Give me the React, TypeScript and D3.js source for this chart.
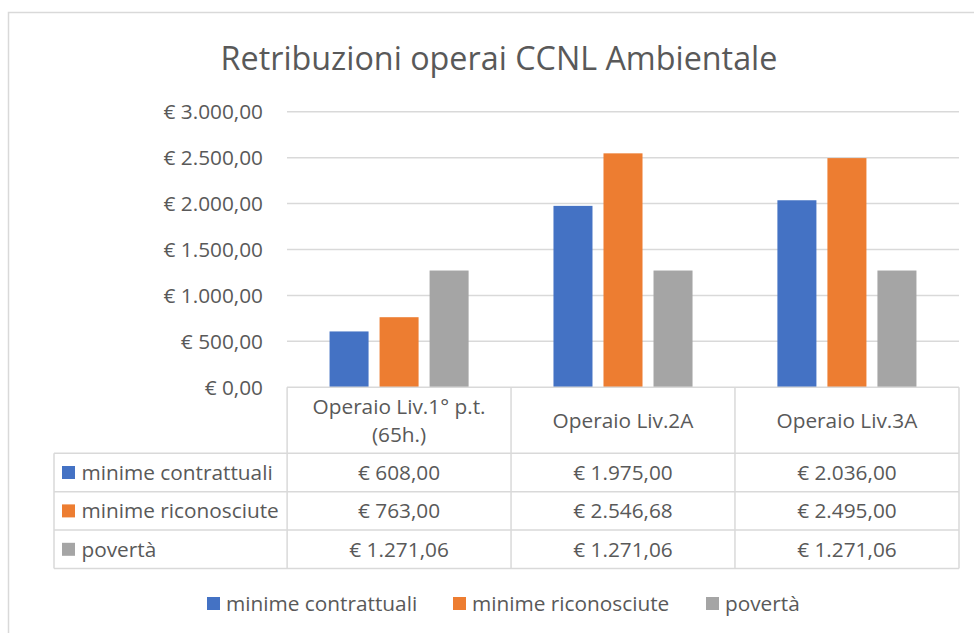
import * as d3 from "d3";
import { useEffect, useRef } from "react";

const categories = ["Operaio Liv.1° p.t. (65h.)", "Operaio Liv.2A", "Operaio Liv.3A"];
const categoryLines = [["Operaio Liv.1° p.t.", "(65h.)"], ["Operaio Liv.2A"], ["Operaio Liv.3A"]];
const seriesNames = ["minime contrattuali", "minime riconosciute", "povertà"];
const minimeContrattuali = [608, 1975, 2036];
const minimeRiconosciute = [763, 2546.68, 2495];
const poverta = [1271.06, 1271.06, 1271.06];
const yTicks = [0, 500, 1000, 1500, 2000, 2500, 3000];

const colors = ["#4472C4", "#ED7D31", "#A5A5A5"];
const title = "Retribuzioni operai CCNL Ambientale";

const euro = d3
  .formatLocale({ decimal: ",", thousands: ".", grouping: [3], currency: ["€ ", ""] })
  .format("$,.2f");

const App = () => {
  const svgRef = useRef(null);
  const width = 974;
  const height = 633;

  useEffect(() => {
    const svg = d3.select(svgRef.current);
    svg.selectAll("*").remove();

    const font = "'Open Sans', sans-serif";
    const textColor = "#595959";
    const lineColor = "#D9D9D9";
    const fs = 20.8;

    const series = [minimeContrattuali, minimeRiconosciute, poverta];

    const plot = { left: 287, right: 959, top: 111.7, bottom: 387.3 };
    const tableLeft = 54;
    const headerBottom = 453.3;
    const rowH = 38.4;

    // outer chart border (runs off the page on right and bottom)
    svg
      .append("rect")
      .attr("x", 8.5)
      .attr("y", 12.5)
      .attr("width", 1000)
      .attr("height", 700)
      .attr("fill", "#fff")
      .attr("stroke", lineColor)
      .attr("stroke-width", 1.5);

    svg
      .append("text")
      .attr("x", 499)
      .attr("y", 69.5)
      .attr("text-anchor", "middle")
      .attr("font-family", font)
      .attr("font-size", 32.3)
      .attr("fill", textColor)
      .text(title);

    const x0 = d3
      .scaleBand()
      .domain(categories)
      .range([plot.left, plot.right])
      .paddingInner(0.379)
      .paddingOuter(0.19);

    const x1 = d3
      .scaleBand()
      .domain(seriesNames)
      .range([0, x0.bandwidth()])
      .paddingInner(0.22);

    const y = d3.scaleLinear().domain([0, 3000]).range([plot.bottom, plot.top]);

    // gridlines + tick labels
    const grid = svg.append("g");
    grid
      .selectAll("line")
      .data(yTicks.filter((t) => t > 0))
      .join("line")
      .attr("x1", plot.left)
      .attr("x2", plot.right)
      .attr("y1", (d) => y(d))
      .attr("y2", (d) => y(d))
      .attr("stroke", lineColor)
      .attr("stroke-width", 1.5);

    grid
      .selectAll("text")
      .data(yTicks)
      .join("text")
      .attr("x", 263)
      .attr("y", (d) => y(d))
      .attr("dy", "0.36em")
      .attr("text-anchor", "end")
      .attr("font-family", font)
      .attr("font-size", fs)
      .attr("fill", textColor)
      .text((d) => euro(d));

    // bars
    const groups = svg
      .append("g")
      .selectAll("g")
      .data(categories)
      .join("g")
      .attr("transform", (d) => `translate(${x0(d)},0)`);

    groups
      .selectAll("rect")
      .data((_, i) => series.map((s, j) => ({ name: seriesNames[j], value: s[i], color: colors[j] })))
      .join("rect")
      .attr("x", (d) => x1(d.name))
      .attr("width", x1.bandwidth())
      .attr("y", (d) => y(d.value))
      .attr("height", (d) => y(0) - y(d.value))
      .attr("fill", (d) => d.color);

    // data table
    const table = svg.append("g").attr("stroke", lineColor).attr("stroke-width", 1.5);
    const tableBottom = headerBottom + rowH * series.length;

    table
      .append("line")
      .attr("x1", plot.left)
      .attr("x2", plot.right)
      .attr("y1", plot.bottom)
      .attr("y2", plot.bottom);

    d3.range(series.length + 1).forEach((r) => {
      table
        .append("line")
        .attr("x1", tableLeft)
        .attr("x2", plot.right)
        .attr("y1", headerBottom + r * rowH)
        .attr("y2", headerBottom + r * rowH);
    });

    table
      .append("line")
      .attr("x1", tableLeft)
      .attr("x2", tableLeft)
      .attr("y1", headerBottom)
      .attr("y2", tableBottom);

    const colEdges = categories.map((c) => x0(c) - (x0.step() - x0.bandwidth()) / 2);
    colEdges.concat([plot.right]).forEach((cx) => {
      table
        .append("line")
        .attr("x1", cx)
        .attr("x2", cx)
        .attr("y1", plot.bottom)
        .attr("y2", tableBottom);
    });

    const headerMid = (plot.bottom + headerBottom) / 2;
    categories.forEach((c, i) => {
      const lines = categoryLines[i];
      const cx = x0(c) + x0.bandwidth() / 2;
      lines.forEach((ln, k) => {
        svg
          .append("text")
          .attr("x", cx)
          .attr("y", headerMid + (k - (lines.length - 1) / 2) * 28.5)
          .attr("dy", "0.36em")
          .attr("text-anchor", "middle")
          .attr("font-family", font)
          .attr("font-size", fs)
          .attr("fill", textColor)
          .text(ln);
      });
    });

    series.forEach((s, r) => {
      const cy = headerBottom + r * rowH + rowH / 2;
      svg
        .append("rect")
        .attr("x", 62)
        .attr("y", cy - 6.5)
        .attr("width", 13)
        .attr("height", 13)
        .attr("fill", colors[r]);
      svg
        .append("text")
        .attr("x", 81.5)
        .attr("y", cy)
        .attr("dy", "0.36em")
        .attr("font-family", font)
        .attr("font-size", fs)
        .attr("fill", textColor)
        .text(seriesNames[r]);
      s.forEach((v, i) => {
        svg
          .append("text")
          .attr("x", x0(categories[i]) + x0.bandwidth() / 2)
          .attr("y", cy)
          .attr("dy", "0.36em")
          .attr("text-anchor", "middle")
          .attr("font-family", font)
          .attr("font-size", fs)
          .attr("fill", textColor)
          .text(euro(v));
      });
    });

    // legend
    const legendX = [207, 453, 706];
    const legendY = 603.5;
    const legend = svg
      .append("g")
      .selectAll("g")
      .data(seriesNames)
      .join("g")
      .attr("transform", (_, i) => `translate(${legendX[i]},${legendY})`);
    legend
      .append("rect")
      .attr("y", -6.5)
      .attr("width", 13)
      .attr("height", 13)
      .attr("fill", (_, i) => colors[i]);
    legend
      .append("text")
      .attr("x", 19)
      .attr("dy", "0.36em")
      .attr("font-family", font)
      .attr("font-size", fs)
      .attr("fill", textColor)
      .text((d) => d);
  }, []);

  return (
    <svg
      ref={svgRef}
      width={width}
      height={height}
      style={{ position: "absolute", left: 0, top: 0, display: "block" }}
    />
  );
};

export default App;
